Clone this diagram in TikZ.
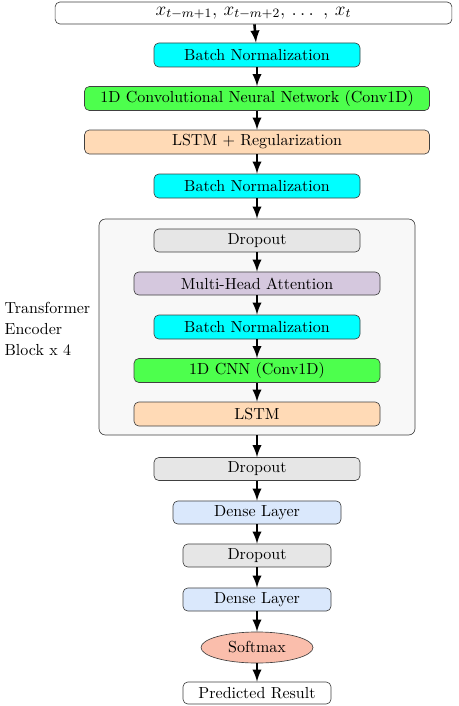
\documentclass[tikz,border=0pt]{standalone}
\usetikzlibrary{shapes.geometric}

\definecolor{bncol}{RGB}{0,255,255}
\definecolor{cnncol}{RGB}{77,255,77}
\definecolor{lstmcol}{RGB}{255,218,182}
\definecolor{attcol}{RGB}{213,200,222}
\definecolor{dropcol}{RGB}{230,230,230}
\definecolor{densecol}{RGB}{218,232,252}
\definecolor{softcol}{RGB}{250,190,172}
\definecolor{blockcol}{RGB}{248,248,248}

\tikzset{
  layer/.style={draw=black!75, rounded corners=3pt, minimum height=15pt,
    inner sep=1pt, font=\normalsize},
  flow/.style={->, line width=1.6pt}
}

\begin{document}
\begin{tikzpicture}[x=0.625pt, y=-0.625pt, >=latex]
  \useasboundingbox (0,0) rectangle (459,706);
  % entrada
  \node[layer, minimum width=248pt, minimum height=13.75pt, fill=white, font=\large] (input) at (253.5,13)
    {$x_{t-m+1},\, x_{t-m+2},\, \dots\ ,\, x_t$};
  \node[layer, minimum width=128.75pt, fill=bncol] (bn1) at (257,55) {Batch Normalization};
  \node[layer, minimum width=215.6pt, fill=cnncol] (conv) at (257,98.5) {1D Convolutional Neural Network (Conv1D)};
  \node[layer, minimum width=215.6pt, fill=lstmcol] (lstmreg) at (257,142) {LSTM + Regularization};
  \node[layer, minimum width=128.75pt, fill=bncol] (bn2) at (257,186) {Batch Normalization};
  % bloque transformer
  \node[draw=black!75, rounded corners=4pt, fill=blockcol, minimum width=197.5pt,
    minimum height=135pt] (block) at (257,327) {};
  \node[align=left, anchor=west, font=\normalsize] (blocklabel) at (-1,329)
    {Transformer\\[1pt] Encoder\\[1pt] Block x 4};
  \node[layer, minimum width=128.75pt, minimum height=14.4pt, fill=dropcol] (drop1) at (257,240.5) {Dropout};
  \node[layer, minimum width=153.75pt, minimum height=14.4pt, fill=attcol] (mha) at (257,283.5) {Multi-Head Attention};
  \node[layer, minimum width=128.75pt, fill=bncol] (bn3) at (257,327) {Batch Normalization};
  \node[layer, minimum width=153.75pt, fill=cnncol] (cnn) at (257,370.5) {1D CNN (Conv1D)};
  \node[layer, minimum width=153.75pt, fill=lstmcol] (lstm) at (257,414) {LSTM};
  % salida
  \node[layer, minimum width=128.75pt, minimum height=14.4pt, fill=dropcol] (drop2) at (257,469) {Dropout};
  \node[layer, minimum width=105pt, minimum height=14.4pt, fill=densecol] (dense1) at (257,512.5) {Dense Layer};
  \node[layer, minimum width=92.5pt, minimum height=14.4pt, fill=dropcol] (drop3) at (257,555.5) {Dropout};
  \node[layer, minimum width=92.5pt, minimum height=14.4pt, fill=densecol] (dense2) at (257,599.5) {Dense Layer};
  \node[draw=black!75, ellipse, inner sep=0pt, minimum width=70pt, minimum height=19.4pt,
    fill=softcol] (softmax) at (257,647.5) {Softmax};
  \node[layer, minimum width=92.5pt, minimum height=13.75pt, fill=white] (result) at (257,693) {Predicted Result};
  % flechas
  \draw[flow] (input) -- (bn1);
  \draw[flow] (bn1) -- (conv);
  \draw[flow] (conv) -- (lstmreg);
  \draw[flow] (lstmreg) -- (bn2);
  \draw[flow] (bn2) -- (block);
  \draw[flow] (drop1) -- (mha);
  \draw[flow] (mha) -- (bn3);
  \draw[flow] (bn3) -- (cnn);
  \draw[flow] (cnn) -- (lstm);
  \draw[flow] (block) -- (drop2);
  \draw[flow] (drop2) -- (dense1);
  \draw[flow] (dense1) -- (drop3);
  \draw[flow] (drop3) -- (dense2);
  \draw[flow] (dense2) -- (softmax);
  \draw[flow] (softmax) -- (result);
\end{tikzpicture}
\end{document}
